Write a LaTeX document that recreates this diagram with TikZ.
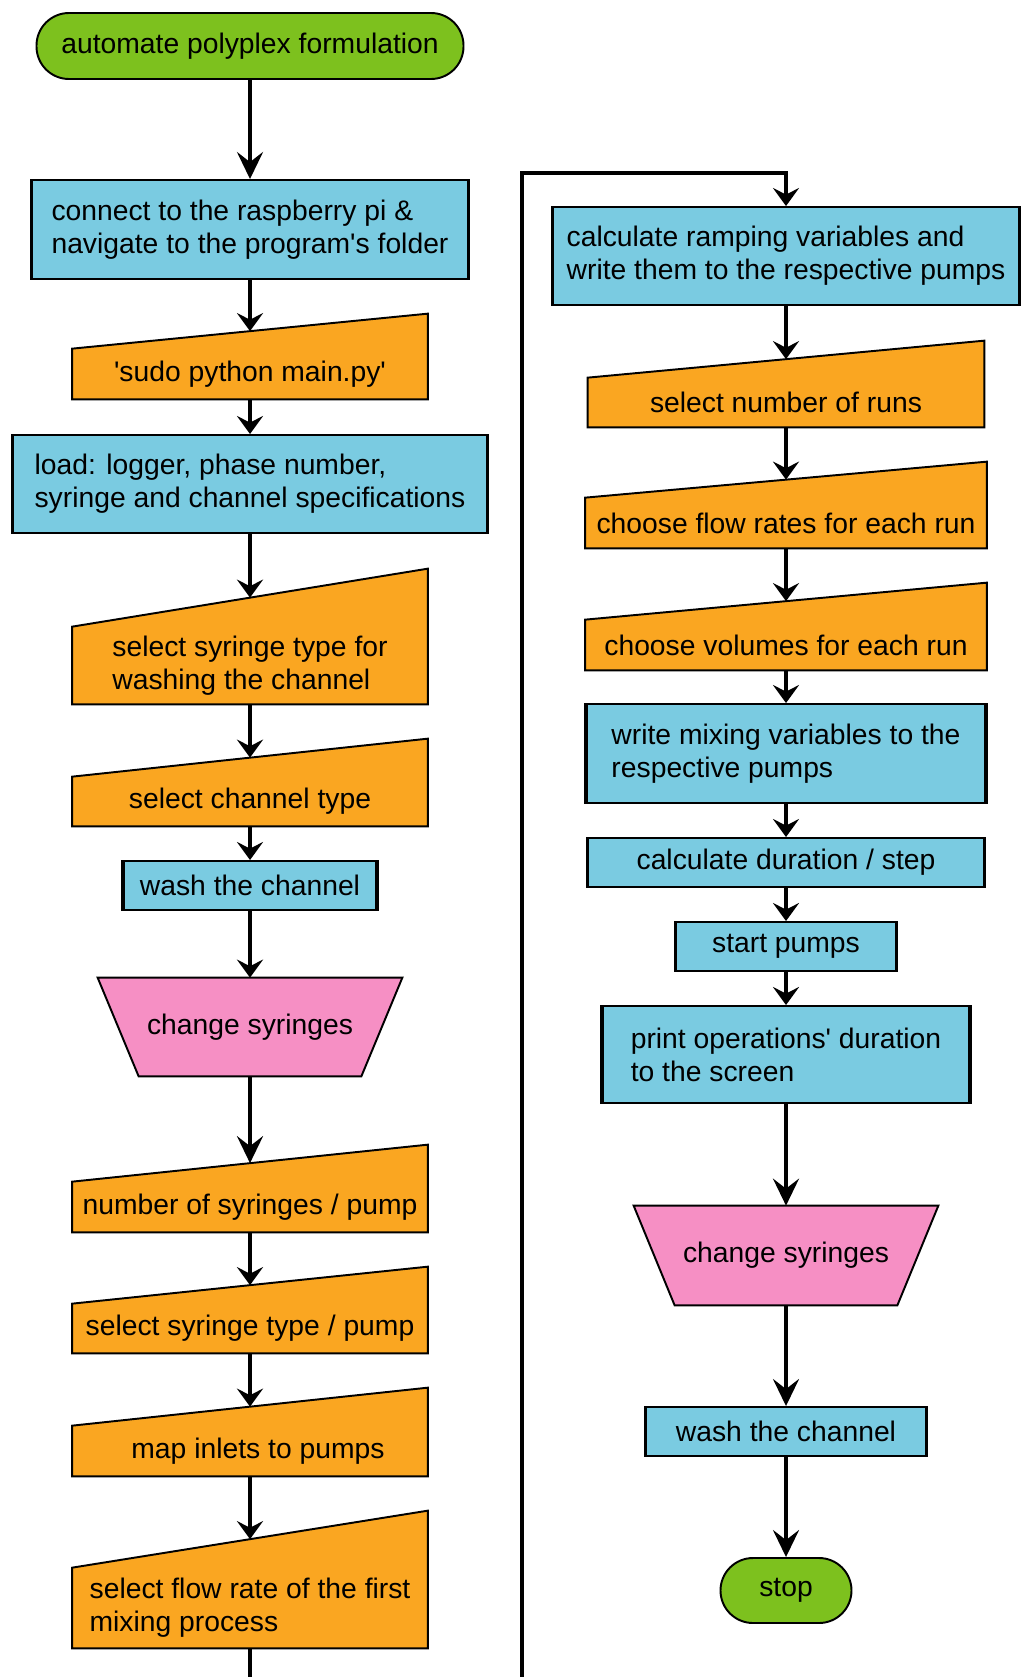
\documentclass[tikz,border=0pt]{standalone}
\usepackage{fontspec}
\setmainfont{Liberation Sans}[Ligatures=TeXOff]
\usetikzlibrary{calc}
\usetikzlibrary{arrows.meta}

\pgfdeclarelayer{back}
\pgfsetlayers{back,main}

\begin{document}
\begin{tikzpicture}[x=0.02cm,y=-0.02cm,
  every node/.style={font=\fontsize{16.1pt}{18.8pt}\selectfont,inner sep=0pt,align=left},
  boxsize/.style 2 args={minimum width={#1*\pix},minimum height={#2*\pix}},
  termbox/.style={draw=black,fill=termcolor,line width=1.1pt,rounded corners=0.65cm},
  procbox/.style={draw=black,fill=proccolor,line width=1.1pt,
    append after command={(\tikzlastnode.north west) edge[line width=2.2pt] (\tikzlastnode.south west)
                          (\tikzlastnode.north east) edge[line width=2.2pt] (\tikzlastnode.south east)}},
  inbox/.style={},
  swapbox/.style={},
  inshape/.style={draw=black,fill=incolor,line width=1.1pt},
  swapshape/.style={draw=black,fill=swapcolor,line width=1.1pt},
  flow/.style={line width=2.2pt,-{Stealth[length=5.4mm,width=5.2mm,inset=2mm]}},
  shortflow/.style={line width=2.2pt,-{Stealth[length=3.6mm,width=5.2mm,inset=1.3mm]}},
  wire/.style={line width=2.2pt}]

\definecolor{termcolor}{RGB}{125,193,30}
\definecolor{proccolor}{RGB}{122,203,225}
\definecolor{incolor}{RGB}{250,166,33}
\definecolor{swapcolor}{RGB}{246,143,196}

\def\pix{0.02cm}
\def\leftx{250}
\def\rightx{786}

\useasboundingbox (0,0) rectangle (1030,1677);

% DRAW THE LEFT COLUMN
\node[termbox,boxsize={427}{66}] (start) at (\leftx,46) {automate polyplex formulation};
\node[procbox,boxsize={435}{99}] (connect) at (\leftx,229.5) {connect to the raspberry pi \&\\navigate to the program's folder};
\node[inbox,boxsize={355}{50}] (sudo) at (\leftx,374) {'sudo python main.py'};
\node[procbox,boxsize={473}{98}] (load) at (\leftx,484) {load: logger, phase number,\\syringe and channel specifications};
\node[inbox,boxsize={355}{77}] (washsel) at (\leftx,665.5) {select syringe type for\\washing the channel};
\node[inbox,boxsize={355}{49}] (chtype) at (\leftx,801.5) {select channel type};
\node[procbox,boxsize={252}{49}] (washA) at (\leftx,885.5) {wash the channel};
\node[swapbox,boxsize={222}{98}] (changeA) at (\leftx,1027) {change syringes};
\node[inbox,boxsize={355}{50}] (nsyr) at (\leftx,1207) {number of syringes / pump};
\node[inbox,boxsize={355}{49}] (syrtype) at (\leftx,1328.5) {select syringe type / pump};
\node[inbox,boxsize={355}{50}] (inlets) at (\leftx,1451) {\hspace*{0.32cm}map inlets to pumps};
\node[inbox,boxsize={355}{80}] (firstflow) at (\leftx,1608) {select flow rate of the first\\mixing process};

% DRAW THE RIGHT COLUMN
\node[procbox,boxsize={465}{98}] (ramp) at (\rightx,256) {calculate ramping variables and\\write them to the respective pumps};
\node[inbox,boxsize={396}{49}] (runs) at (\rightx,402.5) {select number of runs};
\node[inbox,boxsize={401}{50}] (rates) at (\rightx,523) {choose flow rates for each run};
\node[inbox,boxsize={401}{50}] (vols) at (\rightx,645) {choose volumes for each run};
\node[procbox,boxsize={398}{99}] (mixvar) at (\rightx,753.5) {write mixing variables to the\\respective pumps};
\node[procbox,boxsize={395}{49}] (durstep) at (\rightx,862.5) {calculate duration / step};
\node[procbox,boxsize={219}{49}] (pumps) at (\rightx,946.5) {start pumps};
\node[procbox,boxsize={366}{97}] (print) at (\rightx,1054.5) {print operations' duration\\to the screen};
\node[swapbox,boxsize={222}{99}] (changeB) at (\rightx,1255.5) {change syringes};
\node[procbox,boxsize={279}{49}] (washB) at (\rightx,1431.5) {wash the channel};
\node[termbox,boxsize={131}{65}] (stop) at (\rightx,1590.5) {stop};

% DRAW THE MANUAL INPUT AND SWAP SHAPES BEHIND THE TEXT
\begin{pgfonlayer}{back}
\filldraw[inshape] (sudo.south west) -- (sudo.south east) -- ($(sudo.north east)+(0,-35)$) -- (sudo.north west) -- cycle;
\filldraw[inshape] (washsel.south west) -- (washsel.south east) -- ($(washsel.north east)+(0,-58)$) -- (washsel.north west) -- cycle;
\filldraw[inshape] (chtype.south west) -- (chtype.south east) -- ($(chtype.north east)+(0,-38)$) -- (chtype.north west) -- cycle;
\filldraw[inshape] (nsyr.south west) -- (nsyr.south east) -- ($(nsyr.north east)+(0,-37)$) -- (nsyr.north west) -- cycle;
\filldraw[inshape] (syrtype.south west) -- (syrtype.south east) -- ($(syrtype.north east)+(0,-37)$) -- (syrtype.north west) -- cycle;
\filldraw[inshape] (inlets.south west) -- (inlets.south east) -- ($(inlets.north east)+(0,-38)$) -- (inlets.north west) -- cycle;
\filldraw[inshape] (firstflow.south west) -- (firstflow.south east) -- ($(firstflow.north east)+(0,-57)$) -- (firstflow.north west) -- cycle;
\filldraw[inshape] (runs.south west) -- (runs.south east) -- ($(runs.north east)+(0,-37)$) -- (runs.north west) -- cycle;
\filldraw[inshape] (rates.south west) -- (rates.south east) -- ($(rates.north east)+(0,-36)$) -- (rates.north west) -- cycle;
\filldraw[inshape] (vols.south west) -- (vols.south east) -- ($(vols.north east)+(0,-37)$) -- (vols.north west) -- cycle;
\filldraw[swapshape] (changeA.south west) -- (changeA.south east) -- ($(changeA.north east)+(41,0)$) -- ($(changeA.north west)+(-41,0)$) -- cycle;
\filldraw[swapshape] (changeB.south west) -- (changeB.south east) -- ($(changeB.north east)+(41,0)$) -- ($(changeB.north west)+(-41,0)$) -- cycle;
\end{pgfonlayer}

% ENTRY POINTS ON THE SLANTED TOPS
\coordinate (sudoIn) at ($(sudo.north)+(0,-17.5)$);
\coordinate (washselIn) at ($(washsel.north)+(0,-29)$);
\coordinate (chtypeIn) at ($(chtype.north)+(0,-19)$);
\coordinate (nsyrIn) at ($(nsyr.north)+(0,-18.5)$);
\coordinate (syrtypeIn) at ($(syrtype.north)+(0,-18.5)$);
\coordinate (inletsIn) at ($(inlets.north)+(0,-19)$);
\coordinate (firstflowIn) at ($(firstflow.north)+(0,-28.5)$);
\coordinate (runsIn) at ($(runs.north)+(0,-18.5)$);
\coordinate (ratesIn) at ($(rates.north)+(0,-18)$);
\coordinate (volsIn) at ($(vols.north)+(0,-18.5)$);

% DRAW THE LEFT ARROWS
\draw[flow] (start) -- (connect);
\draw[shortflow] (connect) -- (sudoIn);
\draw[shortflow] (sudo) -- (load);
\draw[shortflow] (load) -- (washselIn);
\draw[shortflow] (washsel) -- (chtypeIn);
\draw[shortflow] (chtype) -- (washA);
\draw[shortflow] (washA) -- (changeA);
\draw[flow] (changeA) -- (nsyrIn);
\draw[shortflow] (nsyr) -- (syrtypeIn);
\draw[shortflow] (syrtype) -- (inletsIn);
\draw[shortflow] (inlets) -- (firstflowIn);
\coordinate (leftEnd) at (\leftx,1677);
\draw[wire] (firstflow) -- (leftEnd);

% DRAW THE LOOP INTO THE RIGHT COLUMN
\coordinate (loopStart) at (522,1677);
\coordinate (loopTurn) at (\rightx,173);
\draw[shortflow] (loopStart) |- (loopTurn) -- (ramp);

% DRAW THE RIGHT ARROWS
\draw[shortflow] (ramp) -- (runsIn);
\draw[shortflow] (runs) -- (ratesIn);
\draw[shortflow] (rates) -- (volsIn);
\draw[shortflow] (vols) -- (mixvar);
\draw[shortflow] (mixvar) -- (durstep);
\draw[shortflow] (durstep) -- (pumps);
\draw[shortflow] (pumps) -- (print);
\draw[flow] (print) -- (changeB);
\draw[flow] (changeB) -- (washB);
\draw[flow] (washB) -- (stop);

\end{tikzpicture}
\end{document}
